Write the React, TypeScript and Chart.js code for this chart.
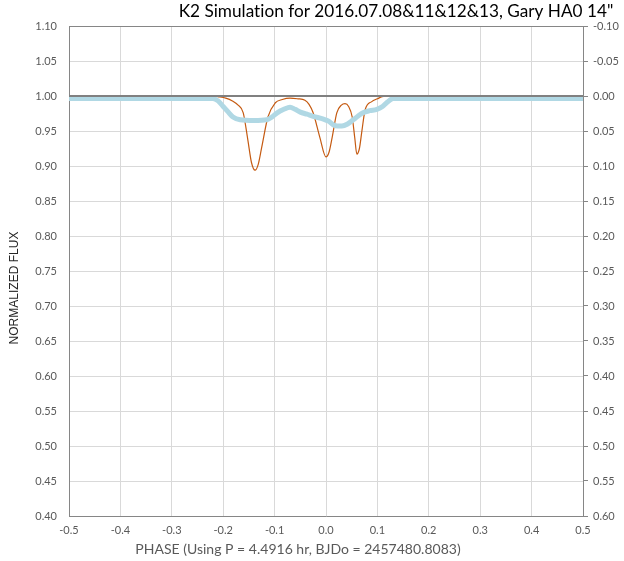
import React, { useEffect, useRef } from "react";
import { Chart, registerables } from "chart.js";

Chart.register(...registerables);

const TITLE = 'K2 Simulation for 2016.07.08&11&12&13, Gary HA0 14"';
const X_TITLE = "PHASE (Using P = 4.4916 hr, BJDo = 2457480.8083)";
const Y_TITLE = "NORMALIZED FLUX";

// Orange model curve (phase, normalized flux)
const modelPhase = [
  -0.5, -0.22, -0.21, -0.195, -0.182, -0.171, -0.161, -0.152, -0.145, -0.138,
  -0.132, -0.125, -0.113, -0.099, -0.085, -0.07, -0.055, -0.041, -0.033, -0.025,
  -0.012, 0.0, 0.006, 0.012, 0.021, 0.03, 0.037, 0.044, 0.051, 0.056, 0.06,
  0.065, 0.07, 0.076, 0.089, 0.1, 0.109, 0.125, 0.5,
];
const modelFlux = [
  1.0, 1.0, 0.999, 0.997, 0.993, 0.987, 0.976, 0.937, 0.905, 0.894,
  0.902, 0.927, 0.97, 0.99, 0.995, 0.997, 0.996, 0.994, 0.988, 0.976,
  0.941, 0.913, 0.92, 0.941, 0.976, 0.987, 0.989, 0.985, 0.97, 0.94, 0.917,
  0.925, 0.951, 0.98, 0.992, 0.996, 0.999, 1.0, 1.0,
];

// Light-blue simulated K2 curve
const simPhase = [
  -0.5, -0.22, -0.21, -0.2, -0.19, -0.181, -0.167, -0.14, -0.115, -0.105,
  -0.095, -0.082, -0.07, -0.06, -0.05, -0.037, -0.025, -0.005, 0.005, 0.014,
  0.022, 0.031, 0.042, 0.053, 0.062, 0.072, 0.085, 0.099, 0.11, 0.119,
  0.131, 0.5,
];
const simFlux = [
  0.9965, 0.9965, 0.993, 0.985, 0.977, 0.97, 0.966, 0.965, 0.966, 0.97,
  0.976, 0.981, 0.984, 0.981, 0.977, 0.974, 0.971, 0.967, 0.964, 0.959,
  0.957, 0.957, 0.96, 0.966, 0.971, 0.976, 0.979, 0.981, 0.985, 0.991,
  0.9965, 0.9965,
];

const Y_MIN = 0.4;
const Y_MAX = 1.1;
const Y2_MIN = -0.1;
const Y2_MAX = 0.6;
const STEP_Y = 0.05;
const STEP_X = 0.1;
const BASELINE = 1.0;

const fmt = (v: any, d: number) => {
  const n = Number(v);
  return (Math.abs(n) < 1e-9 ? 0 : n).toFixed(d);
};

const titlePlugin = {
  id: "customTitles",
  afterDatasetsDraw(chart: any) {
    const ctx = chart.ctx;
    const y = chart.scales.y.getPixelForValue(BASELINE);
    const a = chart.chartArea;
    ctx.save();
    ctx.strokeStyle = "#808080";
    ctx.lineWidth = 2;
    ctx.beginPath();
    ctx.moveTo(a.left, y);
    ctx.lineTo(a.right, y);
    ctx.stroke();
    ctx.restore();
  },
  afterDraw(chart: any) {
    const ctx = chart.ctx;
    ctx.save();
    ctx.textAlign = "center";
    ctx.textBaseline = "middle";
    (ctx as any).letterSpacing = "0.01px";
    ctx.fillStyle = "#000000";
    ctx.font = '17.2px "Lato"';
    ctx.fillText(TITLE, 396, 11);

    ctx.fillStyle = "#595959";
    ctx.font = '14px "Lato"';
    ctx.fillText(X_TITLE, 298, 549);

    ctx.translate(15, 288);
    ctx.rotate(-Math.PI / 2);
    ctx.fillStyle = "#262626";
    ctx.font = '12px "Liberation Sans"';
    ctx.fillText(Y_TITLE, 0, 0);
    ctx.restore();
  },
};

export default function App() {
  const ref = useRef<HTMLCanvasElement>(null);

  useEffect(() => {
    if (!ref.current) return;
    const chart = new Chart(ref.current, {
      type: "line",
      data: {
        datasets: [
          {
            label: "Simulation",
            data: simPhase.map((x, i) => ({ x, y: simFlux[i] })),
            borderColor: "#b0d8e4",
            borderWidth: 5,
            pointRadius: 0,
            cubicInterpolationMode: "monotone",
            borderCapStyle: "round",
            borderJoinStyle: "round",
            yAxisID: "y",
          },
          {
            label: "Model",
            data: modelPhase.map((x, i) => ({ x, y: modelFlux[i] })),
            borderColor: "#c55a11",
            borderWidth: 1.2,
            pointRadius: 0,
            cubicInterpolationMode: "monotone",
            yAxisID: "y",
          },
        ],
      },
      options: {
        animation: false,
        responsive: true,
        maintainAspectRatio: false,
        layout: { padding: { top: 26, left: 0, right: 0, bottom: 0 } },
        plugins: { legend: { display: false }, tooltip: { enabled: false }, title: { display: false } },
        scales: {
          x: {
            type: "linear",
            min: -0.5,
            max: 0.5,
            ticks: {
              stepSize: STEP_X,
              color: "#595959",
              font: { family: "Lato", size: 11 },
              padding: 8,
              maxRotation: 0,
              callback: (v: any) => fmt(v, 1),
            },
            grid: { color: "#d9d9d9", drawTicks: false },
            border: { color: "#868686", width: 1 },
            afterFit: (s: any) => { s.height = 45; },
          },
          y: {
            position: "left",
            min: Y_MIN,
            max: Y_MAX,
            ticks: {
              stepSize: STEP_Y,
              color: "#595959",
              font: { family: "Lato", size: 11 },
              padding: 12,
              callback: (v: any) => fmt(v, 2),
            },
            grid: {
              drawTicks: false,
              color: (c: any) => {
                const v = c.tick ? c.tick.value : 0;
                if (Math.abs(v - Y_MAX) < 1e-6) return "#868686";
                return "#d9d9d9";
              },
            },
            border: { color: "#868686", width: 1 },
            afterFit: (s: any) => { s.width = 69; },
          },
          y2: {
            position: "right",
            min: Y2_MIN,
            max: Y2_MAX,
            reverse: true,
            ticks: {
              stepSize: STEP_Y,
              color: "#595959",
              font: { family: "Lato", size: 11 },
              padding: 5,
              callback: (v: any) => fmt(v, 2),
            },
            grid: { drawOnChartArea: false, drawTicks: true, tickLength: 5, tickColor: "#868686" },
            border: { color: "#868686", width: 1 },
            afterFit: (s: any) => { s.width = 41; },
          },
        },
      },
      plugins: [titlePlugin],
    });
    return () => chart.destroy();
  }, []);

  return (
    <div style={{ position: "absolute", left: 0, top: 0, width: 624, height: 561, background: "#ffffff" }}>
      <canvas ref={ref} />
    </div>
  );
}
